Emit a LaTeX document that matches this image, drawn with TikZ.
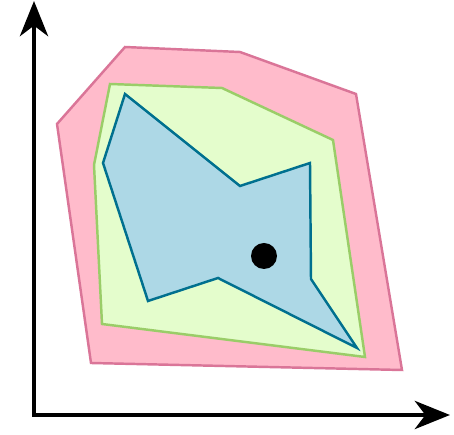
\documentclass[tikz,border=0pt]{standalone}
\usetikzlibrary{arrows.meta}
\definecolor{pinkfill}{HTML}{FFBBCB}
\definecolor{pinkline}{HTML}{DA7598}
\definecolor{greenfill}{HTML}{E4FDCC}
\definecolor{greenline}{HTML}{9ACD68}
\definecolor{bluefill}{HTML}{ADD8E6}
\definecolor{blueline}{HTML}{00708F}
\begin{document}
\begin{tikzpicture}[x=0.02cm,y=-0.02cm,
  poly/.style={line width=1.4pt,line join=miter},
  axis/.style={line width=2.5pt,-{Stealth[length=20pt,width=16pt,inset=6pt]}}]
\useasboundingbox (0,0) rectangle (454,435);
\filldraw[poly,fill=pinkfill,draw=pinkline] (125,47) -- (240,52) -- (356,94) -- (402,370) -- (91,363) -- (57,124) -- cycle;
\filldraw[poly,fill=greenfill,draw=greenline] (110,84) -- (222,88) -- (333,140) -- (365,357) -- (102,324) -- (94,165) -- cycle;
\filldraw[poly,fill=bluefill,draw=blueline] (125,94) -- (240,186) -- (310,163) -- (311,279) -- (357,348) -- (218,278) -- (148,301) -- (103,163) -- cycle;
\fill[black] (264,256) circle (13);
\coordinate (o) at (34,415);
\coordinate (ytip) at (34,1);
\coordinate (xtip) at (450,415);
\draw[axis] (o) -- (ytip);
\draw[axis] (o) -- (xtip);
\fill (o) +(-1.25pt,-1.25pt) rectangle +(1.25pt,1.25pt);
\end{tikzpicture}
\end{document}
